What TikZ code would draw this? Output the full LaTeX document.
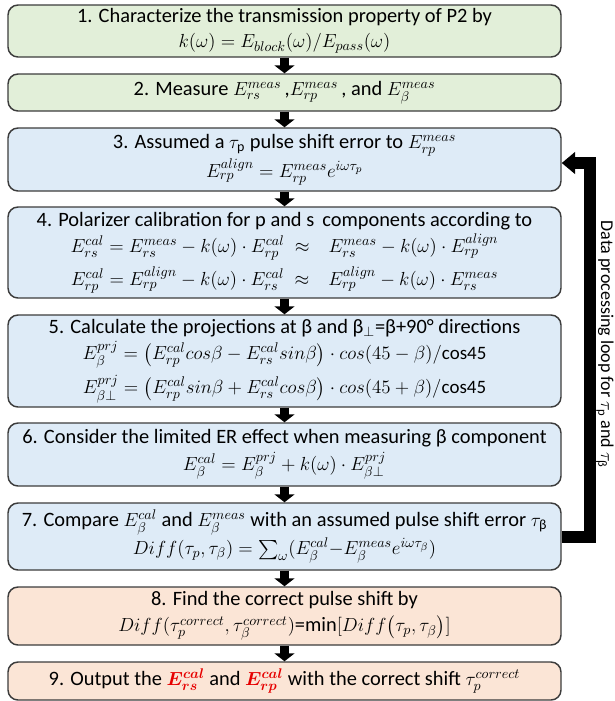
\RequirePackage{fix-cm}
\documentclass[tikz,border=0pt]{standalone}
\usepackage{amsmath,bm}
\usepackage{fontspec}
\setmainfont{Carlito}
\DeclareMathSizes{15.3}{14.2}{10.5}{8}
\usetikzlibrary{arrows.meta}
\definecolor{stepgreen}{RGB}{226,239,217}
\definecolor{stepblue}{RGB}{222,235,247}
\definecolor{steporange}{RGB}{251,229,214}
\definecolor{edgegray}{RGB}{60,60,60}
\definecolor{outred}{RGB}{230,0,0}
\begin{document}
\begin{tikzpicture}[x=0.75pt,y=-0.75pt,
    box/.style={draw=edgegray,line width=1.1pt,rounded corners=7.5pt,
      minimum width=414.75pt,inner sep=0pt,align=center,
      font=\fontsize{15.3}{18.75}\selectfont},
    greenbox/.style={box,fill=stepgreen},
    bluebox/.style={box,fill=stepblue},
    orangebox/.style={box,fill=steporange},
    nextstep/.style={line width=6.5pt,-{Triangle[width=15pt,length=6pt]}},
    loopback/.style={line width=9pt,-{Triangle[width=16pt,length=10pt]}}]
    \useasboundingbox (0,0) rectangle (615,701);
    % steps
    \node[greenbox,minimum height=39pt] (S1) at(284.5,31)
      {1. Characterize the transmission property of P2 by\\
       $k(\omega) = E_{block}(\omega)/E_{pass}(\omega)$};
    \node[greenbox,minimum height=27.75pt] (S2) at(284.5,92.5)
      {2. Measure $E_{rs}^{meas}$\,,$E_{rp}^{meas}$\,, and $E_{\beta}^{meas}$};
    \node[bluebox,minimum height=47.25pt] (S3) at(284.5,159.5)
      {3. Assumed a $\tau_{\mathrm{p}}$ pulse shift error to $E_{rp}^{meas}$\\[1pt]
       $E_{rp}^{align} = E_{rp}^{meas}e^{i\omega\tau_p}$};
    \node[bluebox,minimum height=68.25pt] (S4) at(284.5,252.5)
      {4. Polarizer calibration for p and s\, components according to\\[1pt]
       $E_{rs}^{cal} = E_{rs}^{meas} - k(\omega)\cdot E_{rp}^{cal} \;\approx\;\;\, E_{rs}^{meas} - k(\omega)\cdot E_{rp}^{align}$\\[4pt]
       $E_{rp}^{cal} = E_{rp}^{align} - k(\omega)\cdot E_{rs}^{cal} \;\approx\;\;\, E_{rp}^{align} - k(\omega)\cdot E_{rs}^{meas}$};
    \node[bluebox,minimum height=69pt] (S5) at(284.5,361)
      {5. Calculate the projections at β and β$_{\perp}$=β+90° directions\\[1pt]
       $E_{\beta}^{prj} = \bigl(E_{rp}^{cal}cos\beta - E_{rs}^{cal}sin\beta\bigr)\cdot cos(45-\beta)/\mathrm{cos45}$\\[4pt]
       $E_{\beta\perp}^{prj} = \bigl(E_{rp}^{cal}sin\beta + E_{rs}^{cal}cos\beta\bigr)\cdot cos(45+\beta)/\mathrm{cos45}$};
    \node[bluebox,minimum height=47.25pt] (S6) at(284.5,454.5)
      {6. Consider the limited ER effect when measuring β component\\[1pt]
       $E_{\beta}^{cal} = E_{\beta}^{prj} + k(\omega)\cdot E_{\beta\perp}^{prj}$};
    \node[bluebox,minimum height=50.25pt] (S7) at(284.5,536.5)
      {7. Compare $E_{\beta}^{cal}$ and $E_{\beta}^{meas}$ with an assumed pulse shift error $\tau_{\text{β}}$\\[1pt]
       $Diff(\tau_p,\tau_\beta) = \sum_{\omega}(E_{\beta}^{cal}{-}E_{\beta}^{meas}e^{i\omega\tau_\beta})$};
    \node[orangebox,minimum height=43.5pt] (S8) at(284.5,616)
      {8. Find the correct pulse shift by\\[1pt]
       $Diff(\tau_p^{correct},\tau_\beta^{correct})$=min$[Diff\bigl(\tau_p,\tau_\beta\bigr)]$};
    \node[orangebox,minimum height=28.5pt] (S9) at(284.5,681)
      {9. Output the \textcolor{outred}{$\bm{E_{rs}^{cal}}$} and \textcolor{outred}{$\bm{E_{rp}^{cal}}$} with the correct shift $\tau_p^{correct}$};
    % arrows between steps
    \foreach \a/\b in {S1/S2,S2/S3,S3/S4,S4/S5,S5/S6,S6/S7,S7/S8,S8/S9}
      \draw[nextstep] (\a.south) -- (\b.north);
    % loop
    \coordinate (L1) at(590,536.5);
    \coordinate (L2) at(590,163);
    \draw[loopback] (S7.east) -- (L1) -- (L2) -- (L2 -| S3.east);
    \node[rotate=-90,font=\fontsize{13.5}{16}\selectfont] (L) at(605,344)
      {Data processing loop for $\tau_{\mathrm{p}}$ and $\tau_{\text{β}}$};
\end{tikzpicture}
\end{document}
